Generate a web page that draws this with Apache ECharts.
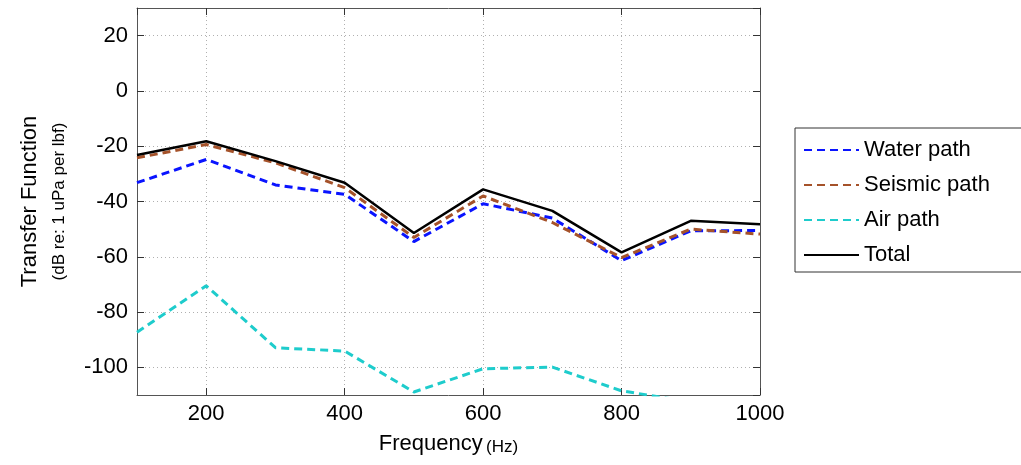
<!DOCTYPE html>
<html><head><meta charset="utf-8">
<script src="https://cdn.jsdelivr.net/npm/echarts@6/dist/echarts.min.js"></script>
<style>html,body{margin:0;padding:0;background:#fff}#c{width:1021px;height:465px}</style>
</head><body><div id="c"></div>
<script>
const freqs = [100, 200, 300, 400, 500, 600, 700, 800, 900, 1000];
const waterPath = [-33.2, -24.8, -34, -37.4, -54.5, -40.8, -46, -61.4, -50.6, -50.5];
const seismicPath = [-24.2, -19.4, -26, -35, -53, -38, -47.6, -60.3, -50, -51.8];
const airPath = [-87.3, -70.5, -92.9, -94.1, -108.9, -100.5, -99.9, -108.5, -112.5, -115];
const totalPath = [-23.2, -18.2, -25.4, -33.2, -51.4, -35.6, -43.4, -58.4, -47, -48.2];
const seriesNames = ['Water path', 'Seismic path', 'Air path', 'Total'];

const pairs = arr => freqs.map((f, i) => [f, arr[i]]);
const FONT = 'Liberation Sans, Arial, Helvetica, sans-serif';
const gridLine = {show: true, lineStyle: {color: '#b0b0b0', type: [1, 3], width: 1}};
const axisLine = {show: true, onZero: false, lineStyle: {color: '#555', width: 1}};
const tick = {show: true, inside: true, length: 7, lineStyle: {color: '#333'}};
const plain = v => String(v);

const xBase = {type: 'value', min: 100, max: 1000, splitNumber: 4, minInterval: 200, maxInterval: 200};
const yBase = {type: 'value', min: -110, max: 30, splitNumber: 7, minInterval: 20, maxInterval: 20};

const chart = echarts.init(document.getElementById('c'));
chart.setOption({
  animation: false,
  textStyle: {fontFamily: FONT},
  grid: {left: 137, right: 261, top: 8, bottom: 70, containLabel: false},
  xAxis: [
    Object.assign({}, xBase, {
      position: 'bottom', axisLine, axisTick: tick, splitLine: gridLine,
      axisLabel: {showMinLabel: false, color: '#000', fontSize: 22, fontFamily: FONT, margin: 8, formatter: plain},
      name: '{a|Frequency} {b|(Hz)}', nameLocation: 'middle', nameGap: 36,
      nameTextStyle: {rich: {a: {fontSize: 22, color: '#000', fontFamily: FONT}, b: {fontSize: 17, color: '#000', fontFamily: FONT, padding: [8, 0, 0, 0]}}}
    }),
    Object.assign({}, xBase, {position: 'top', axisLine, axisTick: tick, splitLine: {show: false}, axisLabel: {show: false}})
  ],
  yAxis: [
    Object.assign({}, yBase, {
      position: 'left', axisLine, axisTick: tick, splitLine: gridLine,
      axisLabel: {showMinLabel: false, showMaxLabel: false, color: '#000', fontSize: 22, fontFamily: FONT, margin: 9, formatter: plain},
      name: '{a|Transfer Function}\n{b|(dB re: 1 uPa per lbf)}', nameLocation: 'middle', nameGap: 66, nameRotate: 90,
      nameTextStyle: {align: 'center', rich: {a: {fontSize: 22, color: '#000', fontFamily: FONT, lineHeight: 34}, b: {fontSize: 17, color: '#000', fontFamily: FONT, lineHeight: 24}}}
    }),
    Object.assign({}, yBase, {position: 'right', axisLine, axisTick: tick, splitLine: {show: false}, axisLabel: {show: false}})
  ],
  legend: {
    left: 795, top: 128, orient: 'vertical',
    data: seriesNames,
    itemWidth: 55, itemHeight: 20, itemGap: 13,
    itemStyle: {opacity: 0},
    borderColor: '#333', borderWidth: 1, padding: [11, 40, 6, 8],
    backgroundColor: '#fff',
    textStyle: {fontSize: 22, lineHeight: 22, color: '#000', fontFamily: FONT}
  },
  series: [
    {name: seriesNames[0], type: 'line', data: pairs(waterPath), symbol: 'none', lineStyle: {color: '#0a14ff', width: 3, type: [8, 5]}, itemStyle: {color: '#0a14ff'}},
    {name: seriesNames[1], type: 'line', data: pairs(seismicPath), symbol: 'none', lineStyle: {color: '#a5522a', width: 3, type: [8, 5]}, itemStyle: {color: '#a5522a'}},
    {name: seriesNames[2], type: 'line', data: pairs(airPath), symbol: 'none', lineStyle: {color: '#1ecccc', width: 3, type: [8, 5]}, itemStyle: {color: '#1ecccc'}},
    {name: seriesNames[3], type: 'line', data: pairs(totalPath), symbol: 'none', lineStyle: {color: '#000', width: 2.5}, itemStyle: {color: '#000'}}
  ]
});
</script></body></html>
